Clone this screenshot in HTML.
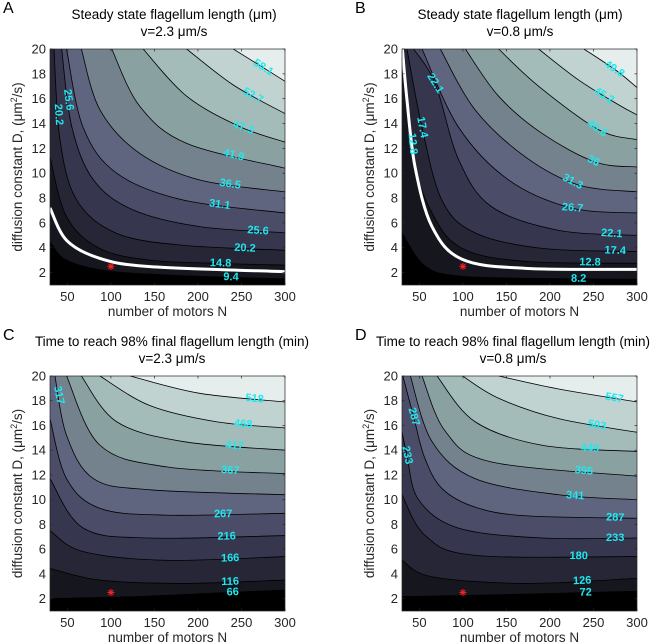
<!DOCTYPE html>
<html><head><meta charset="utf-8"><style>
html,body{margin:0;padding:0;background:#fff;}
svg{display:block;font-family:"Liberation Sans",Arial,sans-serif;}
</style></head><body>
<svg id="fig" width="650" height="644" viewBox="0 0 650 644" xmlns="http://www.w3.org/2000/svg"></svg>
<script>
// ---- data ----
const xTicks = [50,100,150,200,250,300];
const yTicks = [2,4,6,8,10,12,14,16,18,20];
const starPoint = [100,2.5];

const aLevels = ["9.4","14.8","20.2","25.6","31.1","36.5","41.9","47.3","52.7","58.1"];
const aCurves = [
 [[30,4.5],[49,3.0],[100,2.1],[200,1.7],[300,1.5]],
 [[30,11.3],[49,6.5],[87,3.95],[145,3.0],[225,2.74],[300,2.6]],
 [[34.6,20],[41.5,12.7],[60.6,7.85],[106.6,5.16],[183,4.2],[300,3.8]],
 [[43.4,20],[55,13.75],[80,9.45],[125.7,7.04],[202,5.7],[300,5.2]],
 [[49,20],[68,13.7],[106.6,10],[183,7.84],[300,6.8]],
 [[66,20],[87.4,15.1],[133,11.6],[202,9.45],[300,8.5]],
 [[100.9,20],[133,15.4],[187,12.4],[300,10.4]],
 [[137,20],[187,16.2],[248,13.75],[300,12.5]],
 [[187,20],[240.6,17.1],[300,14.8]],
 [[240.6,20],[275,18.5],[300,17.4]]
];
const aWhite = [[30,7.2],[49,4.6],[87,3.15],[145,2.48],[300,2.07]];
const aLabelIdx = [9,8,7,6,5,4,3,2,1,0,3,2];
const aLabelN = [275,263,252,241,237,225,269,254,226,238,51,39.6];

const bLevels = ["8.2","12.8","17.4","22.1","26.7","31.3","36","40.6","45.2","49.8"];
const bCurves = [
 [[30,5.2],[56.8,2.5],[99,1.7],[200,1.52],[300,1.46]],
 [[32,20],[43.4,11.3],[64.5,6.8],[99,3.95],[172,2.9],[300,2.75]],
 [[35.7,20],[53,13.7],[76,7.8],[114,5.2],[191,3.95],[300,3.7]],
 [[43.4,20],[68.3,17.2],[95,11.1],[133,7.3],[210,5.4],[300,5.0]],
 [[53,20],[95,13.7],[152.6,9.45],[225,7.2],[300,6.8]],
 [[74,20],[114,15.1],[172,11.3],[233,9.05],[300,8.5]],
 [[102.8,20],[141,16.2],[191,13.2],[252,10.9],[300,10.5]],
 [[141,20],[187,17],[256,13.5],[300,12.7]],
 [[187,20],[233,17.5],[279,15.5],[300,14.7]],
 [[239,20],[275.6,18.3],[300,16.9]]
];
const bWhite = [[30.5,20],[35.7,15.9],[45,10.5],[64.5,5.7],[99,3.07],[172,2.34],[300,2.26]];
const bLabelIdx = [9,8,7,6,5,4,3,2,1,0,3,2,1];
const bLabelN = [274,262,254,250,226,226,271,275,246,233,68,53,42];

const cLevels = ["66","116","166","216","267","317","367","417","468","518"];
const cCurves = [
 [[30,2.0],[126,2.16],[220,2.45],[300,2.7]],
 [[30,4.45],[87,3.5],[183,3.23],[300,3.5]],
 [[30,7.5],[68.3,5.8],[164,5.1],[300,5.4]],
 [[30,11.7],[68.3,7.7],[145,6.9],[300,7.1]],
 [[30,16.55],[49,11.7],[87.4,9.3],[164,8.75],[300,8.9]],
 [[35.7,20],[49,15.2],[80,11.7],[145,10.8],[300,10.4]],
 [[49,20],[87.4,14.4],[164,12.65],[300,12.1]],
 [[66,20],[106.6,16.3],[183,14.7],[300,14.0]],
 [[87.4,20],[145,17.6],[221,16.3],[300,15.8]],
 [[122,20],[202,18.6],[300,17.9]]
];
const cLabelIdx = [9,8,7,6,4,3,2,1,0,5];
const cLabelN = [265,252,242,237,229,233,237,237,240,40];

const dLevels = ["72","126","180","233","287","341","395","449","503","557"];
const dCurves = [
 [[30,2.16],[133,2.3],[220,2.45],[300,2.6]],
 [[30,5.1],[64.5,3.77],[172,3.23],[300,3.64]],
 [[30,10.4],[56.8,7.1],[114,5.5],[300,5.4]],
 [[30,15.5],[35.7,13.6],[49,10.0],[95,7.7],[191,6.9],[300,6.9]],
 [[31,20],[43.4,16.7],[56,13.4],[76,10.9],[114,9.4],[172,8.7],[300,8.5]],
 [[39.6,20],[64.5,14.7],[114,11.7],[210,10.4],[300,10.0]],
 [[53,20],[80,15.5],[133,13.05],[300,11.9]],
 [[70.2,20],[114,16.3],[191,14.4],[300,13.9]],
 [[99.6,20],[141,18.2],[210,16.55],[300,15.45]],
 [[141,20],[210,18.95],[300,17.9]]
];
const dLabelIdx = [9,8,7,6,5,4,3,2,1,0,4,3];
const dLabelN = [274,254,246,239,229,275,275,233,237,241,43.4,35.7];

const bandColors = ["#000000","#16161e","#262636","#36364e","#4a4c68","#5f657e","#74828e","#89a1a0","#a3bcb9","#c0d3d0","#e6eeed"];

// ---- drawing ----
const NS = "http://www.w3.org/2000/svg";
const svg = document.getElementById('fig');
function mk(tag, attrs, parent){
  const e = document.createElementNS(NS, tag);
  for (const k in attrs) e.setAttribute(k, attrs[k]);
  (parent||svg).appendChild(e);
  return e;
}
function smoothPath(pts){
  let d = "M" + pts[0][0].toFixed(2) + "," + pts[0][1].toFixed(2);
  for (let i=0;i<pts.length-1;i++){
    const p0 = pts[Math.max(i-1,0)], p1 = pts[i], p2 = pts[i+1], p3 = pts[Math.min(i+2,pts.length-1)];
    const c1 = [p1[0]+(p2[0]-p0[0])/6, p1[1]+(p2[1]-p0[1])/6];
    const c2 = [p2[0]-(p3[0]-p1[0])/6, p2[1]-(p3[1]-p1[1])/6];
    d += " C"+c1[0].toFixed(2)+","+c1[1].toFixed(2)+" "+c2[0].toFixed(2)+","+c2[1].toFixed(2)+" "+p2[0].toFixed(2)+","+p2[1].toFixed(2);
  }
  return d;
}

function panel(id, L, T, H, titleX, letter, title1, title2, levels, curves, white, labIdx, labN){
  const W = 235;
  const xs = n => L + (n-30)/270*W;
  const ys = v => T + (20-v)/19*H;
  const g = mk('g', {}, svg);
  
  
  const clip = mk('clipPath', {id:'clip'+id}, g);
  mk('rect', {x:L, y:T, width:W, height:H}, clip);
  const pg = mk('g', {'clip-path':'url(#clip'+id+')'}, g);
  const bg = mk('rect', {x:L, y:T, width:W, height:H, fill:bandColors[0]}, pg);
  
  
  const pix = curves.map(c => c.map(p => [xs(p[0]), ys(p[1])]));
  pix.forEach((pp, k) => {
    const c = curves[k];
    let d = smoothPath(pp) + " L" + xs(300) + "," + ys(20) + " L" + xs(c[0][0]) + "," + ys(20) + " Z";
    const f = mk('path', {d:d, fill:bandColors[k+1], stroke:'none'}, pg);
    
    
  });
  pix.forEach((pp, k) => {
    const l = mk('path', {d:smoothPath(pp), fill:'none', stroke:'#000', 'stroke-width':0.8}, pg);
    
    
  });
  if (white){
    const w = mk('path', {d:smoothPath(white.map(p=>[xs(p[0]),ys(p[1])])), fill:'none', stroke:'#fff', 'stroke-width':3}, pg);
    
    
  }
  labIdx.forEach((k, i) => {
    const c = curves[k], n = labN[i];
    let j = 0;
    while (j < c.length-2 && c[j+1][0] < n) j++;
    const a = c[j], b = c[j+1];
    const t = Math.max(0, Math.min(1, (n-a[0])/(b[0]-a[0])));
    const v = a[1] + t*(b[1]-a[1]);
    const ang = Math.atan2(ys(b[1])-ys(a[1]), xs(b[0])-xs(a[0]))*180/Math.PI;
    const x = xs(n), y = ys(v);
    const tx = mk('text', {x:x, y:y, 'text-anchor':'middle', 'dominant-baseline':'central', 'font-size':11, 'font-weight':'bold', fill:'#1fe8f0', transform:'rotate('+ang.toFixed(1)+' '+x.toFixed(1)+' '+y.toFixed(1)+')'}, pg);
    tx.textContent = levels[k];
    
    
  });
  const sx = xs(starPoint[0]), sy = ys(starPoint[1]);
  const sg = mk('g', {stroke:'#ff2020', 'stroke-width':1}, pg);
  
  
  [0,45,90,135].forEach(a => {
    const r = 3.5, dx = r*Math.cos(a*Math.PI/180), dy = r*Math.sin(a*Math.PI/180);
    mk('line', {x1:sx-dx, y1:sy-dy, x2:sx+dx, y2:sy+dy}, sg);
  });
  const box = mk('rect', {x:L, y:T, width:W, height:H, fill:'none', stroke:'#262626', 'stroke-width':0.7}, g);
  
  
  const tg = mk('g', {stroke:'#262626', 'stroke-width':0.7}, g);
  xTicks.forEach(n => {
    const x = xs(n);
    mk('line', {x1:x, y1:T+H, x2:x, y2:T+H-2.5}, tg);
    mk('line', {x1:x, y1:T, x2:x, y2:T+2.5}, tg);
    const t = mk('text', {x:x, y:T+H+16, 'text-anchor':'middle', 'font-size':13, fill:'#262626', stroke:'none'}, g);
    t.textContent = n;
    
    
  });
  yTicks.forEach(v => {
    const y = ys(v);
    mk('line', {x1:L, y1:y, x2:L+2.5, y2:y}, tg);
    mk('line', {x1:L+W, y1:y, x2:L+W-2.5, y2:y}, tg);
    const t = mk('text', {x:L-4, y:y+4.5, 'text-anchor':'end', 'font-size':13, fill:'#262626', stroke:'none'}, g);
    t.textContent = v;
    
    
  });
  const xl = mk('text', {x:L+W/2, y:T+H+31, 'text-anchor':'middle', 'font-size':13.5, fill:'#262626'}, g);
  xl.textContent = 'number of motors N';
  
  
  const yl = mk('text', {x:0, y:0, 'text-anchor':'middle', 'font-size':13.5, fill:'#262626', transform:'translate('+(L-28)+','+(T+H/2)+') rotate(-90)'}, g);
  yl.innerHTML = 'diffusion constant D, (μm<tspan dy="-5" font-size="9">2</tspan><tspan dy="5">/s)</tspan>';
  
  
  const t1 = mk('text', {x:titleX, y:T-30, 'text-anchor':'middle', 'font-size':13.5, fill:'#000'}, g);
  t1.textContent = title1;
  
  
  const t2 = mk('text', {x:titleX, y:T-13, 'text-anchor':'middle', 'font-size':13.5, fill:'#000'}, g);
  t2.textContent = title2;
  
  
  const lt = mk('text', {x:L-47, y:T-36, 'font-size':16, fill:'#000'}, g);
  lt.textContent = letter;
  
  
}

panel('a', 50, 49, 236, 174, 'A', 'Steady state flagellum length (μm)', 'v=2.3 μm/s', aLevels, aCurves, aWhite, aLabelIdx, aLabelN);
panel('b', 402, 49, 236, 520, 'B', 'Steady state flagellum length (μm)', 'v=0.8 μm/s', bLevels, bCurves, bWhite, bLabelIdx, bLabelN);
panel('c', 50, 376, 235, 172, 'C', 'Time to reach 98% final flagellum length (min)', 'v=2.3 μm/s', cLevels, cCurves, null, cLabelIdx, cLabelN);
panel('d', 402, 376, 235, 513, 'D', 'Time to reach 98% final flagellum length (min)', 'v=0.8 μm/s', dLevels, dCurves, null, dLabelIdx, dLabelN);
</script>
</body></html>
